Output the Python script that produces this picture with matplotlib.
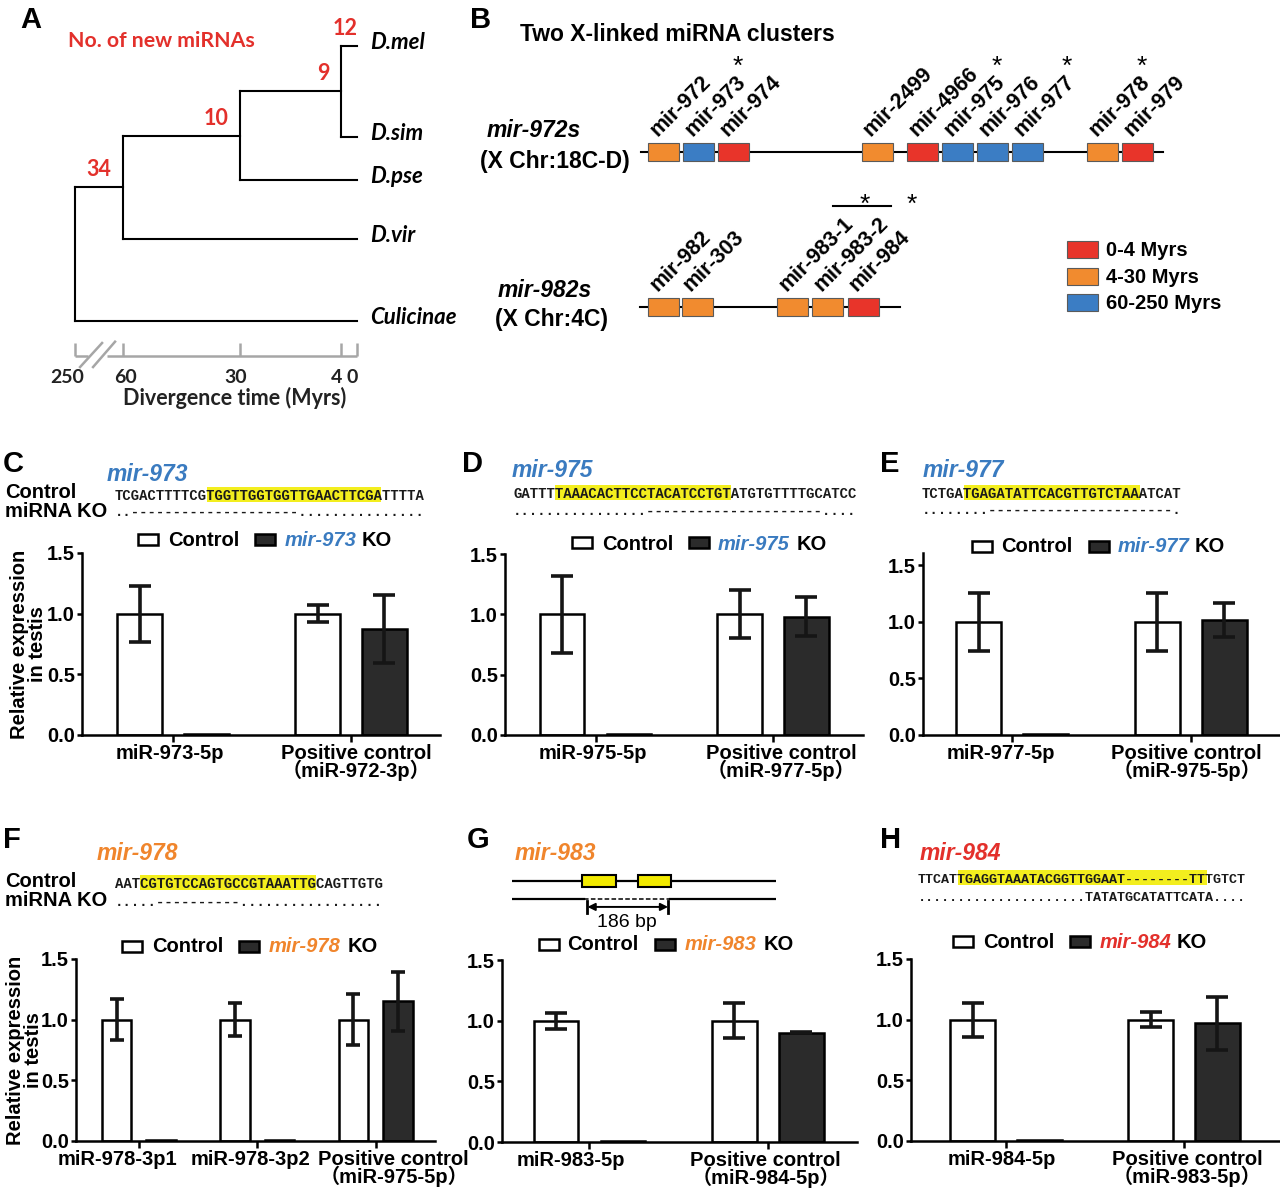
import numpy as np
import matplotlib
matplotlib.use('Agg')
import matplotlib.pyplot as plt
from matplotlib.patches import Rectangle

plt.rcParams['font.family'] = ['Liberation Sans', 'Noto Sans CJK SC']
plt.rcParams['font.weight'] = 'bold'
plt.rcParams['axes.labelweight'] = 'bold'

# ---------------- data ----------------
# A: phylogeny, node ages in Myrs
taxa = ['D.mel', 'D.sim', 'D.pse', 'D.vir', 'Culicinae']
node_age = {'n4': 4, 'n30': 30, 'n60': 60, 'root': 250}
node_children = {'n4': ['D.mel', 'D.sim'], 'n30': ['n4', 'D.pse'],
                 'n60': ['n30', 'D.vir'], 'root': ['n60', 'Culicinae']}
new_mirnas = {'D.mel': 12, 'n4': 9, 'n30': 10, 'n60': 34}
time_ticks = [250, 60, 30, 4, 0]
time_labels = ['250', '60', '30', '4', '0']

# B: two X-linked clusters (age class index into age_names)
age_names = ['0-4 Myrs', '4-30 Myrs', '60-250 Myrs']
c1_genes = ['mir-972', 'mir-973', 'mir-974', 'mir-2499', 'mir-4966',
            'mir-975', 'mir-976', 'mir-977', 'mir-978', 'mir-979']
c1_ages = [1, 2, 0, 1, 0, 2, 2, 2, 1, 0]
c1_ko = ['mir-973', 'mir-975', 'mir-977', 'mir-978']
c2_genes = ['mir-982', 'mir-303', 'mir-983-1', 'mir-983-2', 'mir-984']
c2_ages = [1, 1, 1, 1, 0]

# C-H: relative expression in testis
C_groups = ['miR-973-5p', 'Positive control\n（miR-972-3p）']
C_ctrl, C_ctrl_err = [1.0, 1.0], [0.23, 0.07]
C_ko, C_ko_err = [0.01, 0.87], [0.0, 0.28]
D_groups = ['miR-975-5p', 'Positive control\n（miR-977-5p）']
D_ctrl, D_ctrl_err = [1.0, 1.0], [0.32, 0.20]
D_ko, D_ko_err = [0.01, 0.98], [0.0, 0.16]
E_groups = ['miR-977-5p', 'Positive control\n（miR-975-5p）']
E_ctrl, E_ctrl_err = [1.0, 1.0], [0.26, 0.26]
E_ko, E_ko_err = [0.01, 1.02], [0.0, 0.15]
F_groups = ['miR-978-3p1', 'miR-978-3p2', 'Positive control\n（miR-975-5p）']
F_ctrl, F_ctrl_err = [1.0, 1.0, 1.0], [0.17, 0.135, 0.21]
F_ko, F_ko_err = [0.01, 0.01, 1.15], [0.0, 0.0, 0.24]
G_groups = ['miR-983-5p', 'Positive control\n（miR-984-5p）']
G_ctrl, G_ctrl_err = [1.0, 1.0], [0.065, 0.145]
G_ko, G_ko_err = [0.01, 0.90], [0.0, 0.005]
H_groups = ['miR-984-5p', 'Positive control\n（miR-983-5p）']
H_ctrl, H_ctrl_err = [1.0, 1.0], [0.14, 0.06]
H_ko, H_ko_err = [0.01, 0.97], [0.0, 0.22]

# sequences: control, KO and mature miRNA span (char index)
C_seq = 'TCGACTTTTCGTGGTTGGTGGTTGAACTTCGATTTTA'
C_ko_seq = '..' + '-' * 20 + '.' * 15
C_mature = (11, 32)
D_seq = 'GATTTTAAACACTTCCTACATCCTGTATGTGTTTTGCATCC'
D_ko_seq = '.' * 16 + '-' * 21 + '.' * 4
D_mature = (5, 26)
E_seq = 'TCTGATGAGATATTCACGTTGTCTAAATCAT'
E_ko_seq = '.' * 8 + '-' * 22 + '.'
E_mature = (5, 26)
F_seq = 'AATCGTGTCCAGTGCCGTAAATTGCAGTTGTG'
F_ko_seq = '.' * 5 + '-' * 10 + '.' * 17
F_mature = (3, 24)
H_seq = 'TTCATTGAGGTAAATACGGTTGGAAT--------TTTGTCT'
H_ko_seq = '.' * 21 + 'TATATGCATATTCATA' + '.' * 4
H_mature = (5, 36)

# G: mir-983 locus in bp, relative to deletion start
G_locus = (-155, 415)
G_hairpins = [(-4, 69), (117, 188)]
G_deletion = (0, 186)

# ---------------- styles / layout ----------------
age_colors = ['#e8342a', '#f18b2f', '#3b7dc4']
BLUE, ORANGE, RED = '#3a7bc0', '#f0852c', '#e3302b'
KO_GRAY = '#2b2b2b'
W, H = 1280, 1190

fig = plt.figure(figsize=(12.8, 11.9), dpi=100)


def box(x0, y0, x1, y1):
    return [x0 / W, 1 - y1 / H, (x1 - x0) / W, (y1 - y0) / H]


def txt(x, y, s, **kw):
    return fig.text(x / W, 1 - y / H, s, **kw)


def rect(x, y, w, h, **kw):
    fig.add_artist(Rectangle((x / W, 1 - (y + h) / H), w / W, h / H,
                             transform=fig.transFigure, **kw))


for lab, x, y in [('A', 20, 28), ('B', 470, 28), ('C', 3, 472), ('D', 462, 472),
                  ('E', 880, 472), ('F', 3, 848), ('G', 467, 848), ('H', 880, 848)]:
    txt(x, y, lab, fontsize=21, va='baseline')

# ---------------- A: tree ----------------
k = 12.3 / 190.0


def fwd(t):
    t = np.asarray(t, dtype=float)
    return np.where(t <= 60, t, 60 + (t - 60) * k)


def inv(u):
    u = np.asarray(u, dtype=float)
    return np.where(u <= 60, u, 60 + (u - 60) / k)


leaf_rows = [0.0, 2.0, 2.95, 4.25, 6.05]
axA = fig.add_axes(box(75, 46, 357, 321))
axA.set_xscale('function', functions=(fwd, inv))
axA.set_xlim(250, 0)
axA.set_ylim(leaf_rows[-1], leaf_rows[0])
axA.axis('off')

ypos = dict(zip(taxa, leaf_rows))
age = dict(node_age)
age.update({t: 0 for t in taxa})


def place(n):
    if n not in ypos:
        ys = [place(c) for c in node_children[n]]
        ypos[n] = sum(ys) / len(ys)
    return ypos[n]


place('root')
for n, ch in node_children.items():
    ys = [ypos[c] for c in ch]
    axA.plot([age[n], age[n]], [min(ys), max(ys)], color='black', lw=1.5,
             clip_on=False, solid_capstyle='projecting')
    for c in ch:
        axA.plot([age[n], age[c]], [ypos[c], ypos[c]], color='black', lw=1.5,
                 clip_on=False, solid_capstyle='projecting')

for t in taxa:
    axA.annotate(t, xy=(0, ypos[t]), xytext=(9.5, -2), textcoords='offset points',
                 ha='left', va='baseline', fontsize=16, fontstyle='italic',
                 fontfamily='Lato', fontweight='bold')
for n, cnt in new_mirnas.items():
    if n in taxa:
        axA.annotate(str(cnt), xy=(4, ypos[n]), xytext=(3, 8), textcoords='offset points',
                     ha='center', va='baseline', fontsize=15.5, color=RED,
                     fontfamily='Lato', fontweight='bold')
    else:
        axA.annotate(str(cnt), xy=(age[n], ypos[n]), xytext=(-8.5, 8),
                     textcoords='offset points', ha='right', va='baseline',
                     fontsize=15.5, color=RED, fontfamily='Lato', fontweight='bold')
txt(68, 47, 'No. of new miRNAs', fontsize=15.3, color=RED, fontfamily='Lato',
    fontweight='bold', va='baseline')

axT = fig.add_axes(box(75, 343, 357, 356))
axT.set_xscale('function', functions=(fwd, inv))
axT.set_xlim(250, 0)
axT.set_ylim(0, 1)
for s in axT.spines.values():
    s.set_visible(False)
axT.set_yticks([])
axT.set_xticks(time_ticks)
axT.tick_params(axis='x', direction='in', length=9.4, width=1.8, color='#a6a6a6',
                labelbottom=False)
axT.patch.set_alpha(0)
for t, lab, dx in zip(time_ticks, time_labels, [-8, 3, -4, -5, -5]):
    axT.annotate(lab, xy=(t, 0), xycoords=('data', 'axes fraction'),
                 xytext=(dx * 0.72, -19.5), textcoords='offset points',
                 ha='center', va='baseline', fontsize=14, fontfamily='Lato',
                 fontweight='bold', color='#222222')
for seg in [(250, 200), (123, 0)]:
    axT.plot(seg, [0, 0], color='#a6a6a6', lw=1.8, clip_on=False, solid_capstyle='butt')
for xa, xb, ya, yb in [(0.018, 0.096, -0.85, 1.0), (0.064, 0.142, -0.85, 1.1)]:
    axT.plot([xa, xb], [ya, yb], transform=axT.transAxes, color='#a6a6a6', lw=1.8, clip_on=False)
axT.annotate('Divergence time (Myrs)', xy=(0.567, 0), xycoords='axes fraction',
             xytext=(0, -35.5), textcoords='offset points', ha='center', va='baseline',
             fontsize=15.5, fontfamily='Lato', fontweight='bold', color='#222222')

# ---------------- B: clusters ----------------
txt(520, 41, 'Two X-linked miRNA clusters', fontsize=16.5, va='baseline')
txt(487, 137, 'mir-972s', fontsize=16.5, fontstyle='italic', va='baseline')
txt(480, 168, '(X Chr:18C-D)', fontsize=16.5, va='baseline')
txt(498, 297, 'mir-982s', fontsize=16.5, fontstyle='italic', va='baseline')
txt(495, 326, '(X Chr:4C)', fontsize=16.5, va='baseline')

slot_px, slot_x0 = 35.0, 648
c1_slots = [0, 1, 2, 6.1, 7.4, 8.4, 9.4, 10.4, 12.55, 13.55]
c2_slots = [0, 0.97, 3.69, 4.69, 5.71]


def cluster(genes, ages, slots, span, y0, y1):
    ax = fig.add_axes(box(620, y0, 1200, y1))
    ax.set_xlim((620 - slot_x0) / slot_px, (1200 - slot_x0) / slot_px)
    ax.set_ylim(0, 1)
    ax.axis('off')
    ax.plot(span, [0.5, 0.5], color='black', lw=1.5, zorder=1, clip_on=False)
    for g, a, s in zip(genes, ages, slots):
        ax.add_patch(Rectangle((s, 0), 31 / slot_px, 1, facecolor=age_colors[a],
                               edgecolor='#5a5a5a', lw=0.8, zorder=2, clip_on=False))
        ax.annotate(g, xy=(s, 1), xytext=(6.5, 4.3), textcoords='offset points',
                    rotation=45, rotation_mode='anchor', ha='left', va='baseline',
                    fontsize=15.5)
    return ax


ax1 = cluster(c1_genes, c1_ages, c1_slots, (-0.2, 14.7), 143, 161)
for g in c1_ko:
    s = c1_slots[c1_genes.index(g)]
    ax1.annotate('*', xy=(s, 1), xytext=(39.5, 55), textcoords='offset points',
                 ha='center', va='center', fontsize=19, fontweight='normal')
ax2 = cluster(c2_genes, c2_ages, c2_slots, (-0.23, 7.2), 298, 316)
s1, s2, s3 = c2_slots[2], c2_slots[3], c2_slots[4]
ax2.plot([s1 + 56 / slot_px, s2 + 79 / slot_px], [1 + 92 / 18.0] * 2, color='black',
         lw=1.5, clip_on=False)
ax2.annotate('*', xy=((s1 + 56 / slot_px + s2 + 79 / slot_px) / 2, 1),
             xytext=(2, 67), textcoords='offset points', ha='center', va='center',
             fontsize=19, fontweight='normal')
ax2.annotate('*', xy=(s3, 1), xytext=(46, 67), textcoords='offset points',
             ha='center', va='center', fontsize=19, fontweight='normal')

for i, (nm, yt) in enumerate(zip(age_names, [241, 268, 294])):
    rect(1067, yt, 31, 17, facecolor=age_colors[i], edgecolor='#5a5a5a', lw=0.8)
    txt(1106, yt + 15, nm, fontsize=14.5, va='baseline')

# ---------------- C-H: headers ----------------
for nm, col, x, y in [('mir-973', BLUE, 107, 481), ('mir-975', BLUE, 512, 477),
                      ('mir-977', BLUE, 923, 477), ('mir-978', ORANGE, 97, 860),
                      ('mir-983', ORANGE, 515, 860), ('mir-984', RED, 920, 860)]:
    txt(x, y, nm, fontsize=16.5, fontstyle='italic', color=col, va='baseline')

txt(5, 498, 'Control', fontsize=14.5, va='baseline')
txt(5, 517, 'miRNA KO', fontsize=14.5, va='baseline')
txt(5, 887, 'Control', fontsize=14.5, va='baseline')
txt(5, 906, 'miRNA KO', fontsize=14.5, va='baseline')


def seq_rows(x0, cw, b1, b2, seq, ko, hl):
    fs = cw * 1.2
    rect(x0 + hl[0] * cw, b1 - 13, (hl[1] - hl[0]) * cw, 15,
         facecolor='#f3ee1e', edgecolor='none', zorder=0)
    for s, b in [(seq, b1), (ko, b2)]:
        txt(x0, b, s, fontfamily='Liberation Mono', fontweight='bold',
            fontsize=fs, va='baseline', color='#1a1a1a')


seq_rows(115, 8.32, 500, 516, C_seq, C_ko_seq, C_mature)
seq_rows(513, 8.39, 498, 515, D_seq, D_ko_seq, D_mature)
seq_rows(922, 8.39, 498, 514, E_seq, E_ko_seq, E_mature)
seq_rows(115, 8.38, 888, 906, F_seq, F_ko_seq, F_mature)
seq_rows(918, 8.02, 883, 901, H_seq, H_ko_seq, H_mature)

# G schematic
axG = fig.add_axes(box(512, 872, 776, 935))
axG.set_xlim(*G_locus)
axG.set_ylim(-2, 1.5)
axG.axis('off')
axG.plot(G_locus, [1, 1], color='black', lw=1.6, zorder=1)
for a, b in G_hairpins:
    axG.add_patch(Rectangle((a, 0.64), b - a, 0.72, facecolor='#f2ea00',
                            edgecolor='black', lw=1.5, zorder=2))
axG.plot([G_locus[0], G_deletion[0]], [0, 0], color='black', lw=1.6)
axG.plot([G_deletion[1], G_locus[1]], [0, 0], color='black', lw=1.6)
axG.plot(G_deletion, [0, 0], color='black', lw=1.1, ls=(0, (3, 1.5)))
axG.annotate('', xy=(G_deletion[1] - 4, -0.44), xytext=(G_deletion[0] + 8, -0.44),
             arrowprops=dict(arrowstyle='<|-|>', color='black', lw=1.4, mutation_scale=11,
                             shrinkA=0, shrinkB=0))
for xb in [G_deletion[0] + 8, G_deletion[1] - 4]:
    axG.plot([xb, xb], [-0.75, -0.13], color='black', lw=2)
axG.text(sum(G_deletion) / 2, -1.28, '%d bp' % (G_deletion[1] - G_deletion[0]),
         ha='center', va='center', fontsize=14, fontweight='normal')


# ---------------- C-H: bar charts ----------------
def bar_panel(r, xlim, ymax, groups, ctrl, ctrl_err, ko, ko_err, cap, lab_dx,
              leg, name, col, ylab=None):
    ax = fig.add_axes(box(*r))
    x = np.arange(len(groups))
    w, off = 0.25, 0.188
    ax.bar(x - off, ctrl, w, color='white', edgecolor='black', lw=1.8, zorder=2)
    ax.bar(x + off, ko, w, color=KO_GRAY, edgecolor='black', lw=1.8, zorder=2)
    for xs, vals, errs in [(x - off, ctrl, ctrl_err), (x + off, ko, ko_err)]:
        for xi, v, e in zip(xs, vals, errs):
            if e > 0:
                ax.errorbar(xi, v, yerr=e, fmt='none', ecolor='#151515', elinewidth=2.6,
                            capsize=cap, capthick=2.6, zorder=3)
    ax.set_xlim(*xlim)
    ax.set_ylim(0, ymax)
    ax.spines['top'].set_visible(False)
    ax.spines['right'].set_visible(False)
    ax.spines['left'].set_linewidth(1.8)
    ax.spines['bottom'].set_linewidth(1.8)
    ax.set_yticks([0, 0.5, 1.0, 1.5])
    ax.set_yticklabels(['0.0', '0.5', '1.0', '1.5'])
    ax.tick_params(axis='y', length=3.5, width=1.8, labelsize=14.5, pad=1.5)
    ax.set_xticks(x)
    ax.tick_params(axis='x', length=5, width=1.8, labelbottom=False)
    for xi, g, dx in zip(x, groups, lab_dx):
        ax.annotate(g, xy=(xi, 0), xycoords=('data', 'axes fraction'),
                    xytext=(dx * 0.72, -6.5), textcoords='offset points',
                    ha='center', va='top', fontsize=14.5, linespacing=0.8)
    if ylab:
        ax.set_ylabel('Relative expression\nin testis', fontsize=14.5, linespacing=0.95,
                      fontweight='bold')
        ax.yaxis.set_label_coords(ylab, 0.5)
    ly, xb1, xt1, xb2, xn, xk = leg
    rect(xb1, ly - 5.5, 20, 11, facecolor='white', edgecolor='black', lw=1.8)
    txt(xt1, ly + 6.5, 'Control', fontsize=14.5, va='baseline')
    rect(xb2, ly - 5.5, 20, 11, facecolor=KO_GRAY, edgecolor='black', lw=1.8)
    txt(xn, ly + 6.5, name, fontsize=14.5, fontstyle='italic', color=col, va='baseline')
    txt(xk, ly + 6.5, 'KO', fontsize=14.5, va='baseline')
    return ax


bar_panel((82, 553, 440, 735), (-0.511, 1.5), 1.5, C_groups, C_ctrl, C_ctrl_err,
          C_ko, C_ko_err, 7.9, [-3, 5], (540, 138, 168, 255, 285, 362),
          'mir-973', BLUE, ylab=-0.098)
bar_panel((505, 554, 863, 735), (-0.51, 1.507), 1.5, D_groups, D_ctrl, D_ctrl_err,
          D_ko, D_ko_err, 7.9, [-3, 8], (543, 572, 602, 689, 718, 797),
          'mir-975', BLUE)
bar_panel((923, 553, 1280, 735), (-0.5, 1.5), 1.61, E_groups, E_ctrl, E_ctrl_err,
          E_ko, E_ko_err, 7.9, [-11, -4], (546, 972, 1001, 1089, 1118, 1195),
          'mir-977', BLUE)
bar_panel((76, 959, 435, 1141), (-0.53, 2.5), 1.5, F_groups, F_ctrl, F_ctrl_err,
          F_ko, F_ko_err, 5.0, [-21, -7, 18], (946, 122, 152, 239, 269, 348),
          'mir-978', ORANGE, ylab=-0.092)
bar_panel((502, 960, 857, 1142), (-0.49, 1.5), 1.5, G_groups, G_ctrl, G_ctrl_err,
          G_ko, G_ko_err, 7.9, [-19, -2], (944, 539, 567, 655, 685, 764),
          'mir-983', ORANGE)
bar_panel((911, 959, 1280, 1141), (-0.535, 1.54), 1.5, H_groups, H_ctrl, H_ctrl_err,
          H_ko, H_ko_err, 7.9, [-4, 3], (941, 953, 983, 1070, 1100, 1177),
          'mir-984', RED)

fig.savefig('out.png', dpi=100)
